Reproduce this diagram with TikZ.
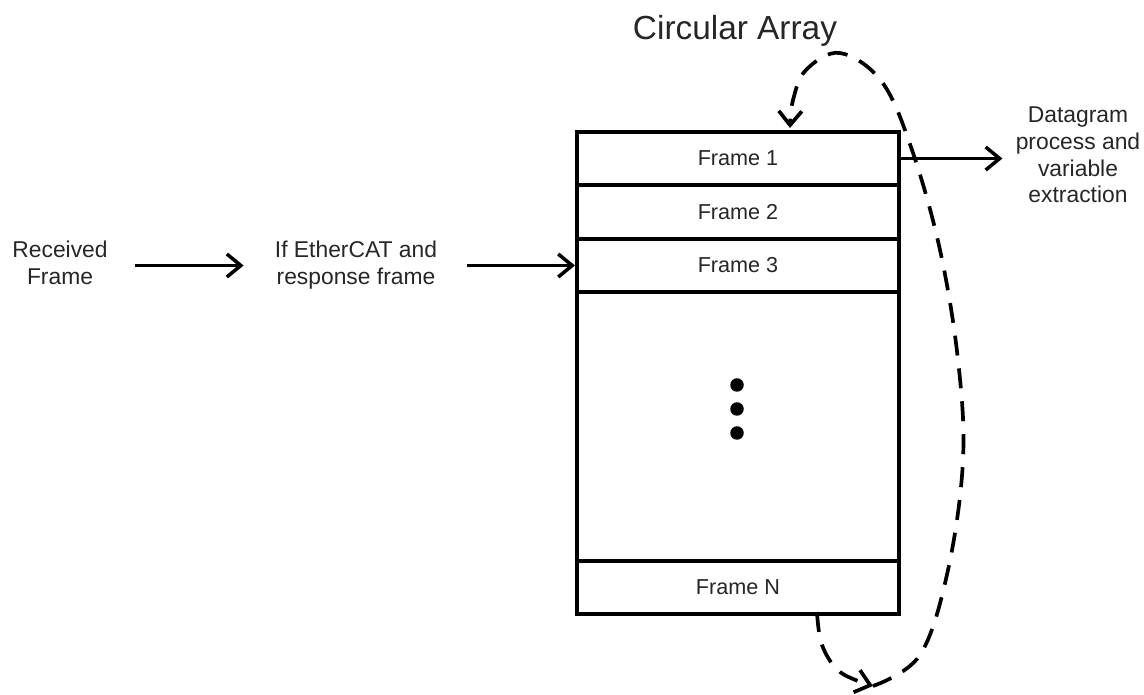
\documentclass[tikz,border=0pt]{standalone}
\usepackage{fontspec}
\setmainfont{Liberation Sans}
\usetikzlibrary{arrows.meta}
\tikzset{
  lbl/.style={inner sep=0pt, align=center, text=black!85, font=\fontsize{13pt}{15.2pt}\selectfont},
  cell/.style={draw, line width=2.3pt, anchor=north west, minimum width=6.44cm,
               inner sep=0pt, text=black!85, font=\fontsize{12.3pt}{15pt}\selectfont},
  tip/.style={-{Straight Barb[length=2.8mm,width=4.6mm,line width=#1]}},
  arr/.style={line width=2pt, tip=2pt},
  loop/.style={line width=2.1pt, dash pattern=on 4mm off 2.6mm, tip=2.1pt},
  dot/.style={circle, fill, inner sep=0pt, minimum size=2.7mm}
}
\begin{document}
\begin{tikzpicture}[x=0.02cm,y=-0.02cm]
\useasboundingbox (0,0) rectangle (1144,695);

% the array of frame slots
\node[cell, minimum height=1.06cm] (f1) at (575,130) {Frame 1};
\node[cell, minimum height=1.08cm] (f2) at (575,183) {Frame 2};
\node[cell, minimum height=1.06cm] (f3) at (575,237) {Frame 3};
\node[cell, minimum height=5.38cm] (fm) at (575,290) {};
\node[cell, minimum height=1.06cm] (fn) at (575,559) {Frame N};

\node[dot] (d1) at (737,385) {};
\node[dot] (d2) at (737,409) {};
\node[dot] (d3) at (737,433) {};

% labels
\node[lbl] (recv) at (60,263) {Received\\Frame};
\node[lbl] (cond) at (356,265) {If EtherCAT and\\response frame};
\node[lbl] (out) at (1078,155) {Datagram\\process and\\variable\\extraction};
\node[inner sep=0pt, anchor=base, text=black!85, font=\fontsize{19pt}{22pt}\selectfont]
  (title) at (735,40) {Circular Array};

% data flow
\draw[arr, shorten <=0.54cm, shorten >=0.62cm] (recv.east |- f3.west) -- (cond.west |- f3.west);
\draw[arr, shorten <=0.6cm] (cond.east |- f3.west) -- (f3.west);
\draw[arr, shorten >=0.26cm] (f1.east) -- (out.west |- f1.east);

% wrap-around of the circular array
\coordinate (wrap) at (873,686);
\draw[loop] plot[smooth, tension=0.6] coordinates
  {(817,612) (822,645) (840,672) (wrap)};
\draw[loop] plot[smooth, tension=0.6] coordinates
  {(wrap) (920,655) (948,570) (963,460) (958,360) (940,250) (912,150) (882,82) (840,53) (806,70) (793,100) (790,128)};
\end{tikzpicture}
\end{document}
